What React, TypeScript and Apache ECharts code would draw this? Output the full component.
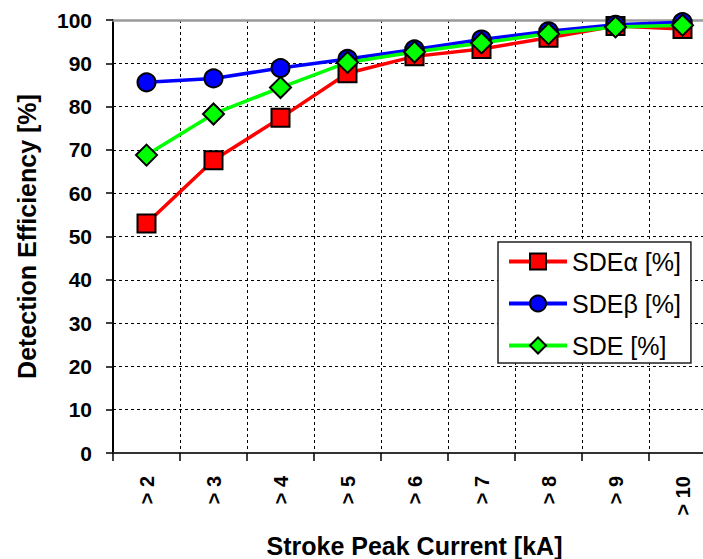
import React, { useEffect, useRef } from "react";
import * as echarts from "echarts";

const categories = ["> 2", "> 3", "> 4", "> 5", "> 6", "> 7", "> 8", "> 9", "> 10"];
const sdeAlpha = [53.0, 67.6, 77.4, 87.7, 91.6, 93.3, 95.9, 98.6, 97.9];
const sdeBeta = [85.6, 86.5, 88.9, 91.0, 93.2, 95.5, 97.4, 98.9, 99.5];
const sdeAll = [68.8, 78.3, 84.4, 90.2, 92.6, 94.7, 96.8, 98.4, 98.8];
const seriesNames = ["SDEα [%]", "SDEβ [%]", "SDE [%]"];
const yMin = 0;
const yMax = 100;
const yStep = 10;

const FONT = "Arial, 'Liberation Sans', sans-serif";

export default function App() {
  const ref = useRef<HTMLDivElement>(null);
  useEffect(() => {
    if (!ref.current) return;
    const chart = echarts.init(ref.current, undefined, { renderer: "svg" });
    const mk = (name: string, data: number[], color: string, symbol: string, size: number) => ({
      name,
      type: "line",
      data,
      symbol,
      symbolSize: size,
      lineStyle: { color, width: 3.5 },
      itemStyle: { color, borderColor: "#000", borderWidth: 2 },
      emphasis: { disabled: true },
    });
    chart.setOption({
      animation: false,
      backgroundColor: "#fff",
      textStyle: { fontFamily: FONT },
      grid: { left: 113, top: 20, right: -13, bottom: 106, outerBoundsMode: "none", containLabel: false },
      legend: {
        left: 498,
        top: 242,
        orient: "vertical",
        itemWidth: 58,
        itemHeight: 20,
        itemGap: 17,
        selectedMode: false,
        padding: [7, 10, 5, 9],
        borderColor: "#222",
        borderWidth: 1.5,
        backgroundColor: "#fff",
        lineStyle: { width: 4 },
        textStyle: { fontSize: 25, color: "#000", fontFamily: FONT, lineHeight: 25 },
        data: seriesNames,
      },
      xAxis: [
        {
          type: "category",
          data: categories,
          boundaryGap: true,
          axisLine: { lineStyle: { color: "#333", width: 2 } },
          axisTick: { show: true, interval: 0, length: 8, lineStyle: { color: "#000", width: 1.5 } },
          axisLabel: {
            interval: 0,
            rotate: 90,
            margin: 23,
            fontSize: 20,
            fontWeight: "bold",
            color: "#000",
            fontFamily: FONT,
          },
          splitLine: { show: true, interval: 0, lineStyle: { color: "#000", width: 1, type: [3, 3] } },
          name: "Stroke Peak Current [kA]",
          nameLocation: "middle",
          nameGap: 80,
          nameTextStyle: { fontSize: 25, fontWeight: "bold", color: "#000", fontFamily: FONT },
        },
        {
          type: "category",
          data: categories,
          position: "top",
          axisLine: { lineStyle: { color: "#999", width: 2.5 } },
          axisTick: { show: false },
          axisLabel: { show: false },
          splitLine: { show: false },
        },
      ],
      yAxis: {
        type: "value",
        min: yMin,
        max: yMax,
        interval: yStep,
        axisLine: { show: true, lineStyle: { color: "#000", width: 2 } },
        axisTick: { show: true, length: 7, lineStyle: { color: "#000", width: 1.5 } },
        axisLabel: { margin: 21, fontSize: 21, fontWeight: "bold", color: "#000", fontFamily: FONT },
        splitLine: { show: true, lineStyle: { color: "#000", width: 1, type: [3, 3] } },
        name: "Detection Efficiency [%]",
        nameLocation: "middle",
        nameGap: 74,
        nameTextStyle: { fontSize: 25, fontWeight: "bold", color: "#000", fontFamily: FONT },
      },
      series: [
        mk(seriesNames[0], sdeAlpha, "#ff0000", "rect", 18),
        mk(seriesNames[1], sdeBeta, "#0000ff", "circle", 18),
        mk(seriesNames[2], sdeAll, "#00ff00", "diamond", 21),
      ],
    });
    return () => chart.dispose();
  }, []);
  return <div ref={ref} style={{ position: "fixed", left: 0, top: 0, width: 703, height: 559 }} />;
}
